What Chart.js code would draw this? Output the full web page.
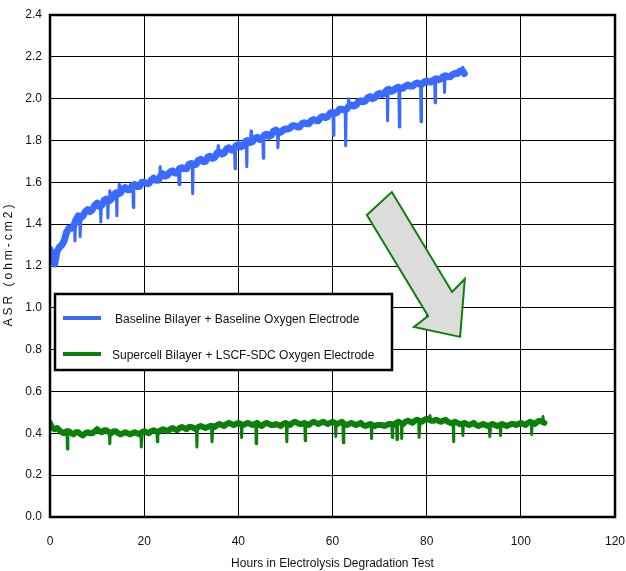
<!DOCTYPE html>
<html>
<head>
<meta charset="utf-8">
<script src="https://cdn.jsdelivr.net/npm/chart.js@4"></script>
<style>
  html, body { margin: 0; padding: 0; background: #fff; }
  #wrap { width: 626px; height: 571px; }
</style>
</head>
<body>
<div id="wrap"><canvas id="asrChart" width="626" height="571"></canvas></div>
<script>
// Baseline cell: readings on the hour, 0..88 h
const blueHours = [0,1,2,3,4,5,6,7,8,9,10,11,12,13,14,15,16,17,18,19,20,21,22,23,24,25,26,27,28,29,30,31,32,33,34,35,36,37,38,39,40,41,42,43,44,45,46,47,48,49,50,51,52,53,54,55,56,57,58,59,60,61,62,63,64,65,66,67,68,69,70,71,72,73,74,75,76,77,78,79,80,81,82,83,84,85,86,87,88];
const blueASR = [1.28,1.21,1.29,1.32,1.38,1.39,1.44,1.44,1.47,1.47,1.50,1.49,1.52,1.52,1.55,1.55,1.575,1.565,1.59,1.58,1.60,1.595,1.62,1.61,1.64,1.635,1.655,1.645,1.67,1.665,1.69,1.685,1.71,1.70,1.725,1.72,1.745,1.74,1.765,1.755,1.78,1.775,1.80,1.795,1.815,1.81,1.83,1.825,1.85,1.84,1.855,1.86,1.87,1.865,1.885,1.88,1.90,1.895,1.915,1.915,1.935,1.935,1.95,1.95,1.97,1.97,1.99,1.99,2.01,2.005,2.025,2.025,2.045,2.04,2.055,2.05,2.065,2.06,2.075,2.07,2.085,2.08,2.095,2.095,2.11,2.105,2.12,2.13,2.12];
// baseline readings on the half hour
const blueHalfHours = [0.5,1.5,2.5,3.5,4.5,5.5,6.5,7.5,8.5,9.5,10.5,11.5,12.5,13.5,14.5,15.5,16.5,17.5,18.5,19.5,20.5,21.5,22.5,23.5,24.5,25.5,26.5,27.5,28.5,29.5,30.5,31.5,32.5,33.5,34.5,35.5,36.5,37.5,38.5,39.5,40.5,41.5,42.5,43.5,44.5,45.5,46.5,47.5,48.5,49.5,50.5,51.5,52.5,53.5,54.5,55.5,56.5,57.5,58.5,59.5,60.5,61.5,62.5,63.5,64.5,65.5,66.5,67.5,68.5,69.5,70.5,71.5,72.5,73.5,74.5,75.5,76.5,77.5,78.5,79.5,80.5,81.5,82.5,83.5,84.5,85.5,86.5,87.5];
const blueHalfASR = [1.23,1.27,1.30,1.36,1.38,1.42,1.43,1.46,1.46,1.49,1.485,1.515,1.51,1.54,1.545,1.57,1.565,1.585,1.58,1.60,1.595,1.61,1.61,1.63,1.63,1.65,1.645,1.665,1.665,1.685,1.685,1.705,1.70,1.72,1.715,1.74,1.735,1.76,1.755,1.775,1.77,1.795,1.79,1.81,1.805,1.825,1.82,1.845,1.84,1.85,1.855,1.87,1.865,1.88,1.88,1.895,1.895,1.91,1.91,1.93,1.93,1.95,1.945,1.965,1.965,1.985,1.985,2.005,2.0,2.02,2.02,2.04,2.035,2.05,2.05,2.06,2.06,2.07,2.07,2.08,2.08,2.09,2.09,2.105,2.105,2.115,2.12,2.135];
// short excursions in the baseline trace (shoulder, peak, shoulder)
const blueSpikeHours = [5.2,5.3,5.4, 6.3,6.4,6.6, 10.7,10.8,10.9, 12.2,12.3,12.4, 12.6,12.7,12.8, 14.1,14.2,14.3, 14.6,14.7,14.8, 17.6,17.7,17.8, 23.3,23.4,23.6, 27.3,27.4,27.6, 30.2,30.3,30.4, 35.6,35.7,35.8, 39.2,39.3,39.4, 41.7,41.8,41.9, 42.6,42.7,42.8, 45.2,45.3,45.4, 48.3,48.4,48.6, 60.1,60.2,60.3, 62.7,62.8,62.9, 63.3,63.4,63.6, 71.6,71.7,71.8, 74.1,74.2,74.3, 78.7,78.8,78.9, 81.7,81.8,81.9, 83.7,83.8,83.9, 87.6,87.7,87.8];
const blueSpikeASR = [1.395,1.32,1.40, 1.44,1.34,1.44, 1.49,1.41,1.49, 1.52,1.43,1.52, 1.52,1.56,1.52, 1.55,1.44,1.55, 1.555,1.59,1.56, 1.575,1.48,1.58, 1.615,1.675,1.62, 1.655,1.59,1.66, 1.69,1.545,1.69, 1.73,1.775,1.74, 1.76,1.665,1.765, 1.79,1.675,1.80, 1.80,1.845,1.80, 1.81,1.715,1.815, 1.845,1.765,1.845, 1.935,1.825,1.935, 1.95,1.775,1.95, 1.955,2.00,1.96, 2.03,1.895,2.035, 2.055,1.865,2.055, 2.072,1.89,2.072, 2.085,1.98,2.09, 2.10,2.03,2.105, 2.13,2.15,2.13];

// Supercell: readings on the hour, 0..105 h
const greenHours = [0,1,2,3,4,5,6,7,8,9,10,11,12,13,14,15,16,17,18,19,20,21,22,23,24,25,26,27,28,29,30,31,32,33,34,35,36,37,38,39,40,41,42,43,44,45,46,47,48,49,50,51,52,53,54,55,56,57,58,59,60,61,62,63,64,65,66,67,68,69,70,71,72,73,74,75,76,77,78,79,80,81,82,83,84,85,86,87,88,89,90,91,92,93,94,95,96,97,98,99,100,101,102,103,104,105];
const greenASR = [0.45,0.42,0.415,0.40,0.41,0.395,0.405,0.39,0.405,0.40,0.42,0.405,0.415,0.40,0.41,0.395,0.405,0.395,0.405,0.395,0.41,0.40,0.415,0.405,0.42,0.41,0.425,0.415,0.43,0.42,0.43,0.42,0.435,0.425,0.435,0.43,0.445,0.435,0.45,0.44,0.45,0.44,0.45,0.44,0.45,0.435,0.45,0.44,0.445,0.435,0.45,0.44,0.455,0.445,0.45,0.44,0.455,0.445,0.455,0.445,0.455,0.445,0.455,0.44,0.45,0.44,0.45,0.435,0.445,0.435,0.44,0.435,0.445,0.44,0.455,0.445,0.46,0.45,0.465,0.455,0.47,0.46,0.465,0.455,0.465,0.45,0.455,0.445,0.45,0.44,0.45,0.435,0.445,0.435,0.445,0.435,0.445,0.435,0.445,0.44,0.45,0.44,0.455,0.445,0.46,0.45];
// supercell readings on the half hour
const greenHalfHours = [0.5,1.5,2.5,3.5,4.5,5.5,6.5,7.5,8.5,9.5,10.5,11.5,12.5,13.5,14.5,15.5,16.5,17.5,18.5,19.5,20.5,21.5,22.5,23.5,24.5,25.5,26.5,27.5,28.5,29.5,30.5,31.5,32.5,33.5,34.5,35.5,36.5,37.5,38.5,39.5,40.5,41.5,42.5,43.5,44.5,45.5,46.5,47.5,48.5,49.5,50.5,51.5,52.5,53.5,54.5,55.5,56.5,57.5,58.5,59.5,60.5,61.5,62.5,63.5,64.5,65.5,66.5,67.5,68.5,69.5,70.5,71.5,72.5,73.5,74.5,75.5,76.5,77.5,78.5,79.5,80.5,81.5,82.5,83.5,84.5,85.5,86.5,87.5,88.5,89.5,90.5,91.5,92.5,93.5,94.5,95.5,96.5,97.5,98.5,99.5,100.5,101.5,102.5,103.5,104.5];
const greenHalfASR = [0.425,0.425,0.405,0.41,0.40,0.405,0.395,0.40,0.40,0.41,0.41,0.415,0.405,0.41,0.40,0.40,0.40,0.40,0.40,0.405,0.405,0.41,0.41,0.415,0.415,0.42,0.42,0.425,0.425,0.43,0.425,0.43,0.43,0.43,0.435,0.44,0.44,0.445,0.445,0.445,0.445,0.445,0.445,0.445,0.44,0.445,0.445,0.44,0.44,0.445,0.445,0.45,0.45,0.445,0.445,0.45,0.45,0.45,0.45,0.45,0.45,0.45,0.445,0.445,0.445,0.445,0.44,0.44,0.44,0.44,0.44,0.44,0.445,0.45,0.45,0.455,0.455,0.46,0.46,0.465,0.465,0.46,0.46,0.46,0.455,0.45,0.45,0.445,0.445,0.445,0.44,0.44,0.44,0.44,0.44,0.44,0.44,0.44,0.445,0.445,0.445,0.45,0.45,0.455,0.455];
const greenSpikeHours = [3.6,3.7,3.8, 12.6,12.7,12.8, 19.3,19.4,19.6, 22.7,22.8,22.9, 31.1,31.2,31.3, 34.3,34.4,34.6, 40.6,40.7,40.8, 43.7,43.8,43.9, 50.2,50.3,50.4, 54.1,54.2,54.3, 60.6,60.7,60.8, 62.2,62.3,62.4, 68.2,68.3,68.4, 72.6,72.7,72.8, 73.6,73.7,73.8, 74.6,74.7,74.8, 78.3,78.4,78.6, 80.6,80.7,80.8, 85.6,85.7,85.8, 87.6,87.7,87.8, 93.3,93.4,93.6, 95.6,95.7,95.8, 102.2,102.3,102.4, 104.6,104.7,104.8];
const greenSpikeASR = [0.405,0.325,0.41, 0.41,0.35,0.405, 0.40,0.335,0.405, 0.41,0.36,0.41, 0.42,0.335,0.425, 0.43,0.36,0.43, 0.445,0.38,0.44, 0.445,0.35,0.445, 0.45,0.36,0.445, 0.45,0.365,0.445, 0.45,0.385,0.45, 0.453,0.355,0.45, 0.445,0.375,0.443, 0.443,0.38,0.442, 0.442,0.37,0.45, 0.45,0.375,0.45, 0.46,0.38,0.46, 0.465,0.485,0.465, 0.452,0.36,0.455, 0.447,0.39,0.448, 0.438,0.385,0.44, 0.438,0.39,0.44, 0.452,0.395,0.45, 0.455,0.48,0.455];

const seriesLabels = ['Baseline Bilayer + Baseline Oxygen Electrode', 'Supercell Bilayer + LSCF-SDC Oxygen Electrode'];
const xTicks = [0, 20, 40, 60, 80, 100, 120];
const yTicks = [0, 0.2, 0.4, 0.6, 0.8, 1.0, 1.2, 1.4, 1.6, 1.8, 2.0, 2.2, 2.4];

// arrow outline in data units (hours, ASR)
const arrowHours = [67.3, 72.6, 85.4, 88.1, 87.1, 77.3, 80.3];
const arrowASR = [1.444, 1.554, 1.076, 1.138, 0.861, 0.908, 0.961];

const BLUE = '#3a6aff';
const GREEN = '#0a800a';

function merge(groups) {
    const pts = [];
    groups.forEach(([xs, ys]) => xs.forEach((x, i) => pts.push({ x: x, y: ys[i] })));
    return pts.sort((a, b) => a.x - b.x);
}

// spikes come in threes; break the line between them
function spikes(xs, ys) {
    const pts = [];
    xs.forEach((x, i) => {
        pts.push({ x: x, y: ys[i] });
        if (i % 3 === 2) pts.push({ x: x + 0.01, y: null });
    });
    return pts;
}

function lineSet(label, data, color, width) {
    return {
        label: label,
        data: data,
        borderColor: color,
        borderWidth: width,
        borderJoinStyle: 'round',
        borderCapStyle: 'round',
        pointRadius: 0,
        tension: 0,
        spanGaps: false,
    };
}

const frame = {
    id: 'frame',
    afterDatasetsDraw(chart) {
        const { ctx, chartArea: a, scales } = chart;
        ctx.save();
        // arrow
        ctx.beginPath();
        arrowHours.forEach((h, i) => {
            const px = scales.x.getPixelForValue(h);
            const py = scales.y.getPixelForValue(arrowASR[i]);
            if (i === 0) ctx.moveTo(px, py); else ctx.lineTo(px, py);
        });
        ctx.closePath();
        ctx.fillStyle = '#dcdcdc';
        ctx.fill();
        ctx.strokeStyle = GREEN;
        ctx.lineWidth = 2;
        ctx.lineJoin = 'miter';
        ctx.stroke();

        // plot border
        ctx.strokeStyle = '#000';
        ctx.lineWidth = 2.5;
        ctx.strokeRect(a.left, a.top, a.right - a.left, a.bottom - a.top);

        // legend box
        const lx = a.left + 5, ly = 294, lw = 337, lh = 76;
        ctx.fillStyle = '#fff';
        ctx.fillRect(lx, ly, lw, lh);
        ctx.lineWidth = 2.5;
        ctx.strokeRect(lx, ly, lw, lh);
        const rows = [318, 354];
        const cols = [BLUE, GREEN];
        const textX = [115, 112];
        ctx.font = '12px "Liberation Sans", Arial, sans-serif';
        ctx.textBaseline = 'middle';
        ctx.textAlign = 'left';
        rows.forEach((ry, i) => {
            ctx.beginPath();
            ctx.moveTo(lx + 8, ry);
            ctx.lineTo(lx + 46, ry);
            ctx.strokeStyle = cols[i];
            ctx.lineWidth = 4;
            ctx.stroke();
            ctx.fillStyle = '#111';
            ctx.fillText(seriesLabels[i], textX[i], ry + 2);
        });

        // y title with wide letter spacing
        ctx.translate(9, 264);
        ctx.rotate(-Math.PI / 2);
        ctx.textAlign = 'center';
        ctx.letterSpacing = '3px';
        ctx.fillText('ASR (ohm-cm2)', 0, 0);
        ctx.restore();
    }
};

new Chart(document.getElementById('asrChart').getContext('2d'), {
    type: 'line',
    data: {
        datasets: [
            lineSet(seriesLabels[0], merge([[blueHours, blueASR], [blueHalfHours, blueHalfASR]]), BLUE, 7),
            lineSet(seriesLabels[0] + ' spikes', spikes(blueSpikeHours, blueSpikeASR), BLUE, 3),
            lineSet(seriesLabels[1], merge([[greenHours, greenASR], [greenHalfHours, greenHalfASR]]), GREEN, 6),
            lineSet(seriesLabels[1] + ' spikes', spikes(greenSpikeHours, greenSpikeASR), GREEN, 3),
        ],
    },
    options: {
        responsive: false,
        animation: false,
        devicePixelRatio: 1,
        layout: { padding: { top: 15, right: 11, left: 0, bottom: 0 } },
        plugins: {
            legend: { display: false },
            tooltip: { enabled: false },
        },
        scales: {
            x: {
                type: 'linear',
                min: 0,
                max: 120,
                afterBuildTicks: (axis) => { axis.ticks = xTicks.map(v => ({ value: v })); },
                afterFit: (axis) => { axis.height = 54; axis.paddingLeft = 0; axis.paddingRight = 0; },
                grid: { color: '#000', lineWidth: 1, drawTicks: false },
                border: { display: false },
                ticks: { color: '#111', padding: 17, maxRotation: 0, font: { family: '"Liberation Sans", Arial, sans-serif', size: 12 } },
                title: {
                    display: true,
                    text: 'Hours in Electrolysis Degradation Test',
                    color: '#111',
                    padding: { top: 4, bottom: 0 },
                    font: { family: '"Liberation Sans", Arial, sans-serif', size: 12 },
                },
            },
            y: {
                min: 0,
                max: 2.4,
                afterBuildTicks: (axis) => { axis.ticks = yTicks.map(v => ({ value: v })); },
                afterFit: (axis) => { axis.width = 50; axis.paddingTop = 0; axis.paddingBottom = 0; },
                grid: { color: '#000', lineWidth: 1, drawTicks: false },
                border: { display: false },
                ticks: {
                    color: '#111',
                    padding: 8,
                    font: { family: '"Liberation Sans", Arial, sans-serif', size: 12 },
                    callback: (v) => v.toFixed(1),
                },
            },
        },
    },
    plugins: [frame],
});
</script>
</body>
</html>
